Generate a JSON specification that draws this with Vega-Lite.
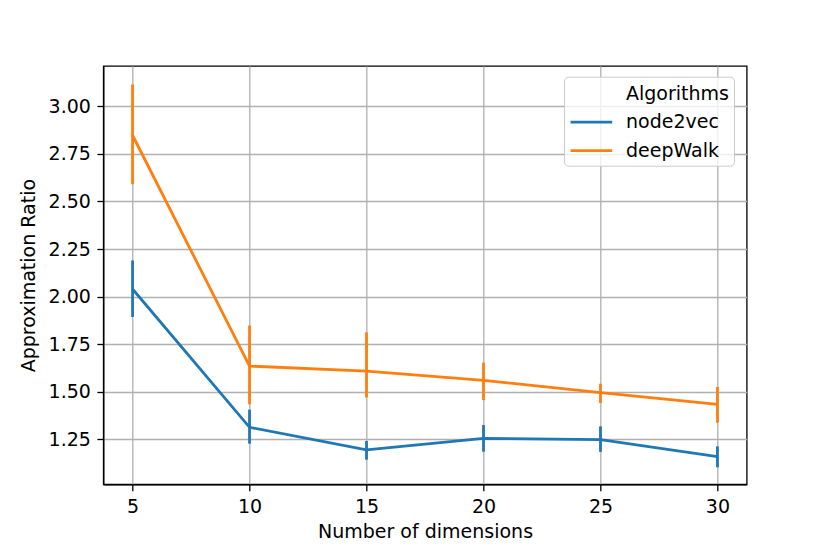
{
  "$schema": "https://vega.github.io/schema/vega-lite/v6.json",
  "description": "Approximation ratio vs number of dimensions, node2vec vs deepWalk",
  "autosize": "none",
  "width": 643.4,
  "height": 418.3,
  "padding": {"left": 103.3, "top": 66, "right": 83.3, "bottom": 69.7},
  "background": "white",
  "data": {
    "values": [
      {"algo": "node2vec", "dim": 5, "ratio": 2.04, "lo": 1.893, "hi": 2.19},
      {"algo": "node2vec", "dim": 10, "ratio": 1.313, "lo": 1.227, "hi": 1.406},
      {"algo": "node2vec", "dim": 15, "ratio": 1.194, "lo": 1.143, "hi": 1.241},
      {"algo": "node2vec", "dim": 20, "ratio": 1.255, "lo": 1.185, "hi": 1.325},
      {"algo": "node2vec", "dim": 25, "ratio": 1.248, "lo": 1.184, "hi": 1.318},
      {"algo": "node2vec", "dim": 30, "ratio": 1.159, "lo": 1.103, "hi": 1.213},
      {"algo": "deepWalk", "dim": 5, "ratio": 2.848, "lo": 2.591, "hi": 3.115},
      {"algo": "deepWalk", "dim": 10, "ratio": 1.635, "lo": 1.434, "hi": 1.848},
      {"algo": "deepWalk", "dim": 15, "ratio": 1.608, "lo": 1.47, "hi": 1.812},
      {"algo": "deepWalk", "dim": 20, "ratio": 1.56, "lo": 1.456, "hi": 1.653},
      {"algo": "deepWalk", "dim": 25, "ratio": 1.495, "lo": 1.441, "hi": 1.542},
      {"algo": "deepWalk", "dim": 30, "ratio": 1.434, "lo": 1.337, "hi": 1.525}
    ]
  },
  "encoding": {
    "x": {
      "field": "dim", "type": "quantitative",
      "scale": {"domain": [3.75, 31.25], "nice": false, "zero": false},
      "axis": {"values": [5, 10, 15, 20, 25, 30], "format": "d", "title": "Number of dimensions", "labelPadding": 6.5, "titlePadding": 6}
    },
    "color": {
      "field": "algo", "type": "nominal",
      "scale": {
        "domain": ["Algorithms", "node2vec", "deepWalk"],
        "range": ["rgba(0,0,0,0)", "#1f77b4", "#ff7f0e"]
      },
      "legend": {
        "title": null,
        "orient": "none",
        "legendX": 460.7,
        "legendY": 10.7,
        "symbolType": "M-1,0H3",
        "symbolSize": 433,
        "symbolStrokeWidth": 2.8,
        "labelOffset": 33,
        "labelFontSize": 19,
        "labelColor": "black",
        "rowPadding": 6.5,
        "padding": 5,
        "strokeColor": "#cccccc",
        "cornerRadius": 4,
        "fillColor": "rgba(255,255,255,0.8)"
      }
    }
  },
  "layer": [
    {
      "mark": {"type": "rule", "strokeWidth": 2.8},
      "encoding": {
        "y": {"field": "lo", "type": "quantitative", "title": "Approximation Ratio",
              "scale": {"domain": [1.0135, 3.212], "nice": false, "zero": false}},
        "y2": {"field": "hi"}
      }
    },
    {
      "mark": {"type": "line", "strokeWidth": 2.8},
      "encoding": {
        "y": {
          "field": "ratio", "type": "quantitative",
          "scale": {"domain": [1.0135, 3.212], "nice": false, "zero": false},
          "axis": {"values": [1.25, 1.5, 1.75, 2.0, 2.25, 2.5, 2.75, 3.0], "format": ".2f", "title": "Approximation Ratio", "labelPadding": 6.5, "titlePadding": 10}
        }
      }
    }
  ],
  "config": {
    "font": "DejaVu Sans",
    "view": {"stroke": "black", "strokeWidth": 1.3},
    "axis": {
      "domainColor": "black", "domainWidth": 1.3,
      "tickColor": "black", "tickWidth": 1.3, "tickSize": 6.4,
      "labelFont": "DejaVu Sans", "labelFontSize": 19, "labelColor": "black",
      "titleFont": "DejaVu Sans", "titleFontSize": 19, "titleFontWeight": "normal", "titleColor": "black",
      "gridColor": "#b0b0b0", "gridWidth": 1.3, "gridOpacity": 1
    },
    "legend": {"labelFont": "DejaVu Sans"}
  }
}
